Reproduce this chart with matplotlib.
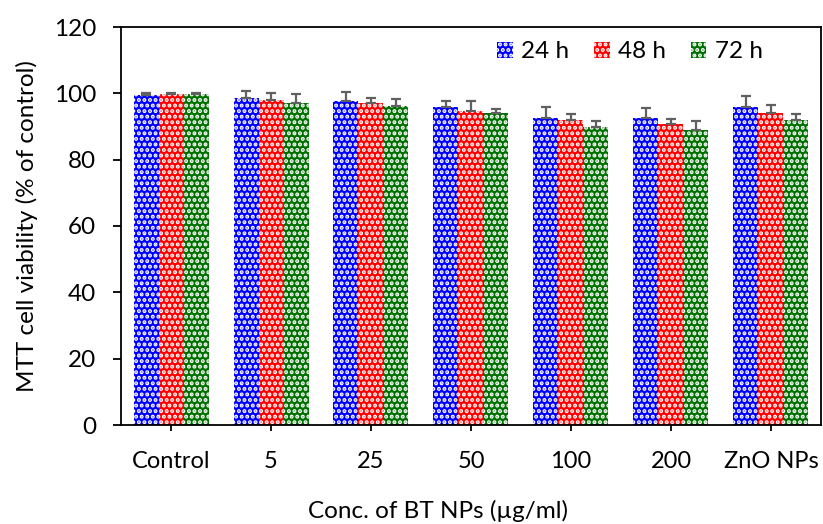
import matplotlib
matplotlib.use("Agg")
import matplotlib.pyplot as plt
import numpy as np
from matplotlib.patches import Patch

plt.rcParams['font.family'] = ['Lato', 'DejaVu Sans']
plt.rcParams['hatch.linewidth'] = 2.0

# data
groups = ['Control', '5', '25', '50', '100', '200', 'ZnO NPs']
series = ['24 h', '48 h', '72 h']
v24 = [99.6, 98.7, 97.6, 96.0, 92.7, 92.6, 95.8]
v48 = [99.9, 97.9, 97.1, 94.8, 92.1, 90.9, 94.1]
v72 = [99.9, 97.1, 96.1, 94.2, 90.0, 88.9, 92.0]
e24 = [0.4, 2.0, 2.7, 1.7, 3.1, 2.9, 3.3]
e48 = [0.3, 2.1, 1.5, 2.9, 1.8, 1.5, 2.5]
e72 = [0.3, 2.6, 2.1, 1.2, 1.7, 2.8, 1.7]
colors = ['#0000FF', '#FF0000', '#007000']

fig = plt.figure(figsize=(8.23, 5.24), dpi=100)
ax = fig.add_axes([121/823, 1-425/524, 700/823, 398/524])

x = np.arange(len(groups))
w = 0.25
vals = [v24, v48, v72]
errs = [e24, e48, e72]
for i in range(3):
    pos = x + (i-1)*w
    ax.bar(pos, vals[i], w, color=colors[i], edgecolor='white', hatch='...', linewidth=0, zorder=2)
    ax.errorbar(pos, vals[i], yerr=[np.zeros(len(groups)), errs[i]], fmt='none',
                ecolor='#606060', elinewidth=1.6, capsize=3.3, capthick=1.6, zorder=3)

ax.set_xlim(-0.5, 6.5)
ax.set_ylim(0, 120)
ax.set_yticks(np.arange(0, 121, 20))
ax.set_xticks(x)
ax.set_xticklabels(groups)
for s in ax.spines.values():
    s.set_linewidth(1.3)
ax.tick_params(axis='y', length=6, width=1.3, pad=12, labelsize=17.5)
ax.tick_params(axis='x', length=4.5, width=1.3, pad=14, labelsize=17)

fig.text(27/823, 1-226/524, 'MTT cell viability (% of control)', rotation=90,
         ha='center', va='center', fontsize=17.5)
fig.text(438/823, 1-511/524, 'Conc. of BT NPs (µg/ml)', ha='center', va='center', fontsize=17.5)

handles = [Patch(facecolor=c, edgecolor='white', hatch='...', linewidth=0) for c in colors]
fig.legend(handles, series, loc='center', bbox_to_anchor=(630/823, 1-52/524), ncol=3,
           frameon=False, fontsize=17.5, handlelength=0.65, handleheight=0.6,
           handletextpad=0.35, columnspacing=1.0, borderpad=0)

fig.savefig('out.png', dpi=100)
